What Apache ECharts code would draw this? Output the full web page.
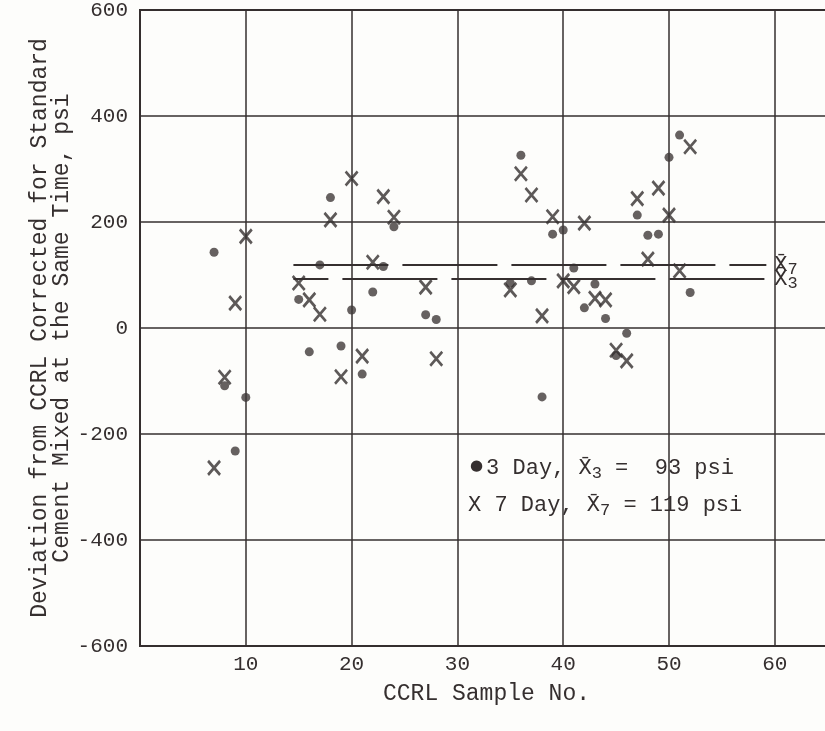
<!DOCTYPE html>
<html>
<head>
<meta charset="utf-8">
<script src="https://cdn.jsdelivr.net/npm/echarts@6/dist/echarts.min.js"></script>
<style>
  html, body { margin: 0; padding: 0; background: #fdfdfb; }
  #chart { width: 825px; height: 731px; }
</style>
</head>
<body>
<div id="chart"></div>
<script>
// CCRL sample numbers and deviations (psi)
const sampleNo = [7, 8, 9, 10, 15, 16, 17, 18, 19, 20, 21, 22, 23, 24, 27, 28,
  35, 36, 37, 38, 39, 40, 41, 42, 43, 44, 45, 46, 47, 48, 49, 50, 51, 52];
const day3Dev = [143, -109, -232, -131, 54, -45, 119, 246, -34, 34, -87, 68, 116, 191, 25, 16,
  85, 326, 89, -130, 177, 185, 113, 38, 83, 18, -52, -10, 213, 175, 177, 322, 364, 67];
const day7Dev = [-264, -93, 47, 173, 85, 53, 26, 204, -92, 282, -53, 124, 248, 209, 77, -58,
  72, 291, 251, 23, 210, 89, 78, 198, 56, 53, -42, -62, 244, 130, 264, 213, 108, 342];
const mean3 = 93;
const mean7 = 119;
const meanSpan = [14.5, 59.2];

const ink = '#352f2f';
const font = 'Liberation Mono';

let chart = echarts.init(document.getElementById('chart'));

const meanLine = (val, sub, offset) => [
  {
    coord: [meanSpan[0], val],
    lineStyle: { dashOffset: offset },
    label: { formatter: '{o|X\u0304}{s|' + sub + '}' }
  },
  { coord: [meanSpan[1], val] }
];

chart.setOption({
  animation: false,
  backgroundColor: '#fdfdfb',
  grid: {
    left: 140, right: -8, top: 10, bottom: 85,
    outerBoundsMode: 'none',
    show: true, borderColor: ink, borderWidth: 2
  },
  xAxis: {
    type: 'value',
    min: 0, max: 65.5, interval: 10,
    name: 'CCRL Sample No.',
    nameLocation: 'middle',
    nameGap: 36,
    nameMoveOverlap: false,
    nameTextStyle: { color: ink, fontFamily: font, fontSize: 23 },
    axisLine: { show: false },
    axisTick: { show: false },
    axisLabel: {
      color: ink, fontFamily: font, fontSize: 21, margin: 8,
      formatter: v => (v === 0 || v % 10 !== 0) ? '' : v
    },
    splitLine: { show: true, lineStyle: { color: ink, width: 1.5 } }
  },
  yAxis: {
    type: 'value',
    min: -600, max: 600, interval: 200,
    name: 'Deviation from CCRL Corrected for Standard\nCement Mixed at the Same Time, psi',
    nameLocation: 'middle',
    nameRotate: 90,
    nameGap: 67,
    nameMoveOverlap: false,
    nameTextStyle: { color: ink, fontFamily: font, fontSize: 23, lineHeight: 22 },
    axisLine: { show: false },
    axisTick: { show: false },
    axisLabel: { color: ink, fontFamily: font, fontSize: 21, margin: 12 },
    splitLine: { show: true, lineStyle: { color: ink, width: 1.5 } }
  },
  graphic: [
    {
      type: 'text', left: 470, top: 457,
      style: {
        text: '{d|\u25CF}3 Day, X\u0304{s|3} =  ' + mean3 + ' psi',
        fill: ink, font: '22px "' + font + '"',
        rich: {
          d: { fontSize: 15, fontFamily: 'DejaVu Sans', fill: ink, padding: [0, 3, 4, 0] },
          s: { fontSize: 17, fontFamily: font, fill: ink, padding: [10, 0, 0, 0] }
        }
      }
    },
    {
      type: 'text', left: 468, top: 494,
      style: {
        text: 'X 7 Day, X\u0304{s|7} = ' + mean7 + ' psi',
        fill: ink, font: '22px "' + font + '"',
        rich: {
          s: { fontSize: 17, fontFamily: font, fill: ink, padding: [10, 0, 0, 0] }
        }
      }
    }
  ],
  series: [
    {
      name: '3 Day',
      type: 'scatter',
      symbol: 'circle',
      symbolSize: 9,
      itemStyle: { color: '#403a3a' },
      data: sampleNo.map((n, i) => [n, day3Dev[i]]),
      markLine: {
        silent: true,
        symbol: 'none',
        lineStyle: { color: ink, width: 2, type: [95, 14] },
        label: {
          position: 'end', distance: 8, color: ink, fontFamily: font, fontSize: 22,
          rich: {
            o: { fontSize: 22, fontFamily: font, color: ink },
            s: { fontSize: 17, fontFamily: font, color: ink, padding: [10, 0, 0, 0] }
          }
        },
        data: [meanLine(mean3, '3', 60), meanLine(mean7, '7', 0)]
      }
    },
    {
      name: '7 Day',
      type: 'scatter',
      symbol: 'path://M0,0L10,12M10,0L0,12',
      symbolSize: [12, 14],
      itemStyle: { color: 'transparent', borderColor: ink, borderWidth: 2.8 },
      data: sampleNo.map((n, i) => [n, day7Dev[i]])
    }
  ]
});
</script>
</body>
</html>
